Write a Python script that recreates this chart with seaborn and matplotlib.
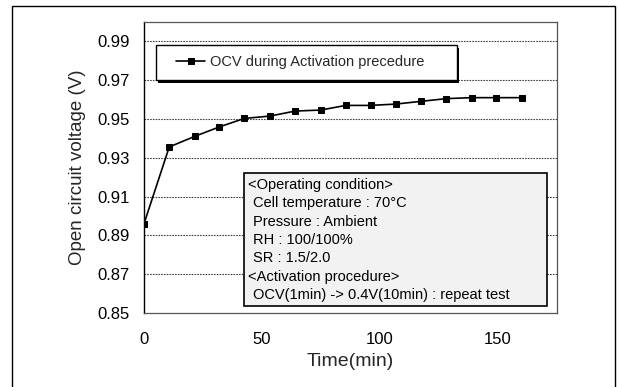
import matplotlib
matplotlib.use("Agg")
import matplotlib.pyplot as plt
from matplotlib.patches import Rectangle
import seaborn as sns
import pandas as pd

time_min = [0, 10.7, 21.6, 31.9, 42.5, 53.3, 64.1, 74.8, 85.5, 96.0, 106.7, 117.4, 128.1, 138.9, 149.3, 160.3]
ocv = [0.896, 0.9356, 0.9411, 0.9459, 0.9503, 0.9515, 0.9541, 0.9546, 0.957, 0.957,
       0.9577, 0.9591, 0.9605, 0.961, 0.961, 0.961]
series_label = "OCV during Activation precedure"
y_ticks = [0.85, 0.87, 0.89, 0.91, 0.93, 0.95, 0.97, 0.99]
x_ticks = [0, 50, 100, 150]
info_lines = ["<Operating condition>", "Cell temperature : 70\u00b0C", "Pressure : Ambient",
              "RH : 100/100%", "SR : 1.5/2.0", "<Activation procedure>",
              "OCV(1min) -> 0.4V(10min) : repeat test"]

sns.set_style("white")
plt.rcParams['font.family'] = ['Liberation Sans', 'DejaVu Sans']

W, H = 618, 387
fig = plt.figure(figsize=(W / 100, H / 100), dpi=100)
L, R, T, B = 144, 557, 22, 313
ax = fig.add_axes([L / W, 1 - B / H, (R - L) / W, (B - T) / H])

df = pd.DataFrame({"Time": time_min, "OCV": ocv})
sns.lineplot(data=df, x="Time", y="OCV", ax=ax, color="black", marker="s",
             markersize=4.2, markeredgecolor="black", linewidth=1.2, label=series_label,
             legend=False)

ax.set_xlim(0, 175)
ax.set_ylim(0.85, 1.00)
ax.set_xticks(x_ticks)
ax.set_yticks(y_ticks)
ax.set_yticklabels([f"{v:.2f}" for v in y_ticks])
ax.tick_params(axis="both", labelsize=12, direction="in", length=3, colors="black")
ax.tick_params(axis="x", pad=14)
ax.tick_params(axis="y", pad=10)
ax.set_xlabel("Time(min)", fontsize=14, labelpad=4)
ax.set_ylabel("Open circuit voltage (V)", fontsize=13.5, labelpad=8)

for v in y_ticks[1:]:
    ax.axhline(v, color="#444444", linestyle=(0, (1.5, 1)), linewidth=0.8, zorder=0)

for s in ["top", "right", "bottom"]:
    ax.spines[s].set_color("#555555")
    ax.spines[s].set_linestyle((0, (1.5, 1)))
    ax.spines[s].set_linewidth(0.9)
ax.spines["left"].set_color("black")
ax.spines["left"].set_linewidth(1.0)

def fx(px):
    return (px - L) / (R - L)

def fy(py):
    return (B - py) / (B - T)

# legend box with shadow
lx0, lx1, ly0, ly1 = 156, 457, 45, 80
ax.add_patch(Rectangle((fx(lx0) + 0.006, fy(ly1) - 0.012), fx(lx1) - fx(lx0), fy(ly0) - fy(ly1),
                       transform=ax.transAxes, facecolor="black", edgecolor="none", zorder=4))
ax.add_patch(Rectangle((fx(lx0), fy(ly1)), fx(lx1) - fx(lx0), fy(ly0) - fy(ly1),
                       transform=ax.transAxes, facecolor="white", edgecolor="black",
                       linewidth=1.0, zorder=5))
h, lab = ax.get_legend_handles_labels()
leg = ax.legend(h, lab, loc="center left", bbox_to_anchor=(fx(176), fy(62.5)),
                frameon=False, fontsize=10.5, handlelength=2.0, handletextpad=0.3,
                borderaxespad=0, borderpad=0)
leg.set_zorder(6)

# info box
bx0, bx1, by0, by1 = 244, 547, 173, 306
ax.add_patch(Rectangle((fx(bx0), fy(by1)), fx(bx1) - fx(bx0), fy(by0) - fy(by1),
                       transform=ax.transAxes, facecolor="#f2f2f2", edgecolor="black",
                       linewidth=1.2, zorder=5))
line_y0, line_dy = 185, 18.3
for i, txt in enumerate(info_lines):
    xpx = 248 if txt.startswith("<") else 253
    ax.text(fx(xpx), fy(line_y0 + i * line_dy), txt, transform=ax.transAxes,
            fontsize=10.5, va="center", ha="left", zorder=6, color="black")

# outer frame
fig.add_artist(Rectangle((12 / W, -0.05), (615 - 12) / W, 1.05 - 6 / H,
                         transform=fig.transFigure, fill=False, edgecolor="black",
                         linewidth=1.0))

fig.savefig("out.png", dpi=100)
